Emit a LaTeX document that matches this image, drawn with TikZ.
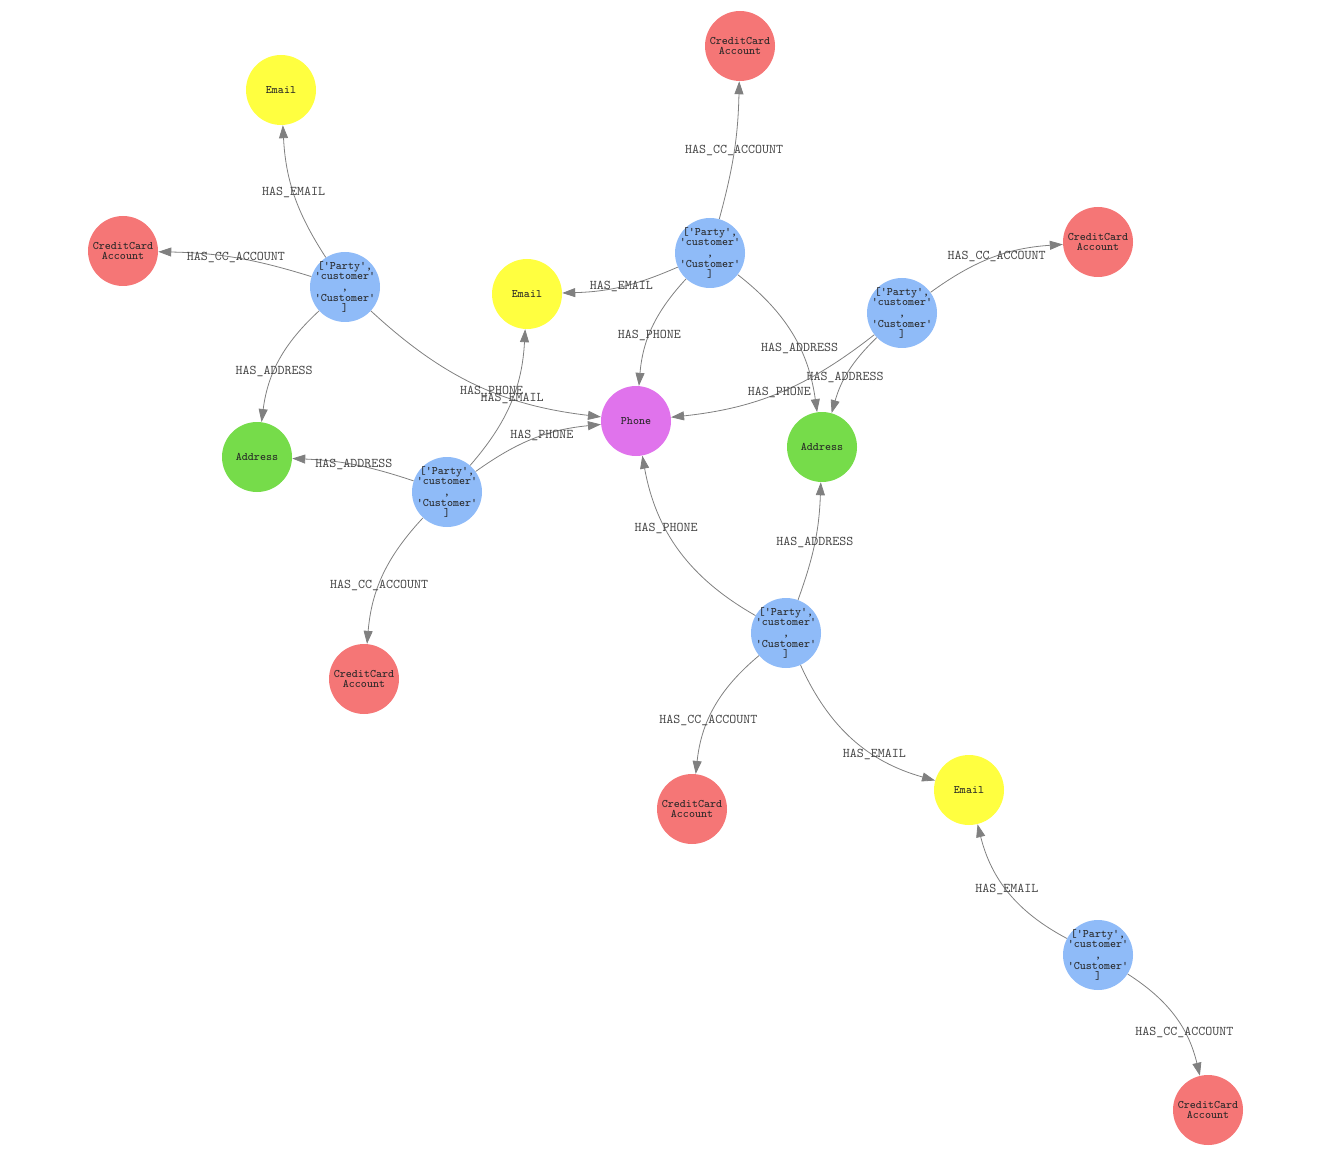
\documentclass[tikz,border=0pt]{standalone}
\usepackage{fontspec}
\usetikzlibrary{arrows.meta}
\definecolor{custc}{HTML}{8FBBF8}
\definecolor{ccc}{HTML}{F57676}
\definecolor{emailc}{HTML}{FFFF40}
\definecolor{addrc}{HTML}{76DC4A}
\definecolor{phonec}{HTML}{E073EC}
\definecolor{edgec}{RGB}{128,128,128}
\definecolor{lblc}{RGB}{70,70,70}
\begin{document}
\begin{tikzpicture}[x=0.75pt,y=-0.75pt,
  nd/.style={circle, minimum size=52.5pt, inner sep=0pt, draw=none, align=center,
    font=\ttfamily\fontsize{8.6}{7.9}\selectfont, text=black!85},
  custtxt/.style={align=center, inner sep=0pt, font=\ttfamily\fontsize{8.6}{7.9}\selectfont, text=black!85},
  custnode/.style={nd, fill=custc},
  ccnode/.style={nd, fill=ccc},
  emailnode/.style={nd, fill=emailc},
  addrnode/.style={nd, fill=addrc},
  phonenode/.style={nd, fill=phonec},
  edge/.style={draw=edgec, line width=0.6pt, -{Triangle[length=9.75pt,width=6.75pt]}},
  lbl/.style={font=\ttfamily\fontsize{10}{10}\selectfont, text=lblc, inner sep=0pt, pos=0.5}
]
\useasboundingbox (0,0) rectangle (1326,1151);
\newcommand{\custtext}{['Party',\\'customer'\\,\\'Customer'\\]}
\newcommand{\cctext}{CreditCard\\Account}

% nodes
\node[emailnode] (e1) at (281,90) {Email};
\node[ccnode] (cc1) at (123,251) {\cctext};
\node[custnode, label={[custtxt]center:\custtext}] (c1) at (345,287) {};
\node[addrnode] (a1) at (257,457) {Address};
\node[emailnode] (e2) at (527,294) {Email};
\node[custnode, label={[custtxt]center:\custtext}] (c2) at (710,253) {};
\node[ccnode] (cc2) at (740,46) {\cctext};
\node[phonenode] (ph) at (636,421) {Phone};
\node[custnode, label={[custtxt]center:\custtext}] (c3) at (902,313) {};
\node[ccnode] (cc3) at (1098,242) {\cctext};
\node[addrnode] (a2) at (822,447) {Address};
\node[custnode, label={[custtxt]center:\custtext}] (c4) at (447,492) {};
\node[ccnode] (cc4) at (364,679) {\cctext};
\node[custnode, label={[custtxt]center:\custtext}] (c5) at (786,633) {};
\node[ccnode] (cc5) at (692,809) {\cctext};
\node[emailnode] (e3) at (969,790) {Email};
\node[custnode, label={[custtxt]center:\custtext}] (c6) at (1098,955) {};
\node[ccnode] (cc6) at (1208,1110) {\cctext};

% edges
\draw[edge] (c1) to[bend left=15] node[lbl, pos=0.52]{HAS\_EMAIL} (e1);
\draw[edge] (c1) to[bend right=8] node[lbl]{HAS\_CC\_ACCOUNT} (cc1);
\draw[edge] (c1) to[bend right=20] node[lbl, pos=0.6]{HAS\_ADDRESS} (a1);
\draw[edge] (c1) to[bend right=18] node[lbl, pos=0.57]{HAS\_PHONE} (ph);

\draw[edge] (c2) to[bend right=7] node[lbl]{HAS\_CC\_ACCOUNT} (cc2);
\draw[edge] (c2) to[bend left=11] node[lbl]{HAS\_EMAIL} (e2);
\draw[edge] (c2) to[bend right=19] node[lbl, pos=0.57]{HAS\_PHONE} (ph);
\draw[edge] (c2) to[bend left=22] node[lbl, pos=0.6]{HAS\_ADDRESS} (a2);

\draw[edge] (c3) to[bend left=16] node[lbl, pos=0.53]{HAS\_CC\_ACCOUNT} (cc3);
\draw[edge] (c3) to[bend right=15] node[lbl, pos=0.58]{HAS\_ADDRESS} (a2);
\draw[edge] (c3) to[bend left=16] node[lbl, pos=0.5]{HAS\_PHONE} (ph);

\draw[edge] (c4) to[bend right=19] node[lbl, pos=0.53]{HAS\_EMAIL} (e2);
\draw[edge] (c4) to[bend left=15] node[lbl, pos=0.56]{HAS\_PHONE} (ph);
\draw[edge] (c4) to[bend right=8] node[lbl]{HAS\_ADDRESS} (a1);
\draw[edge] (c4) to[bend right=19] node[lbl, pos=0.58]{HAS\_CC\_ACCOUNT} (cc4);

\draw[edge] (c5) to[bend left=25] node[lbl, pos=0.63]{HAS\_PHONE} (ph);
\draw[edge] (c5) to[bend right=9] node[lbl]{HAS\_ADDRESS} (a2);
\draw[edge] (c5) to[bend right=22] node[lbl, pos=0.61]{HAS\_CC\_ACCOUNT} (cc5);
\draw[edge] (c5) to[bend right=25] node[lbl, pos=0.65]{HAS\_EMAIL} (e3);

\draw[edge] (c6) to[bend left=24] node[lbl, pos=0.52]{HAS\_EMAIL} (e3);
\draw[edge] (c6) to[bend left=22] node[lbl, pos=0.65]{HAS\_CC\_ACCOUNT} (cc6);
\end{tikzpicture}
\end{document}
